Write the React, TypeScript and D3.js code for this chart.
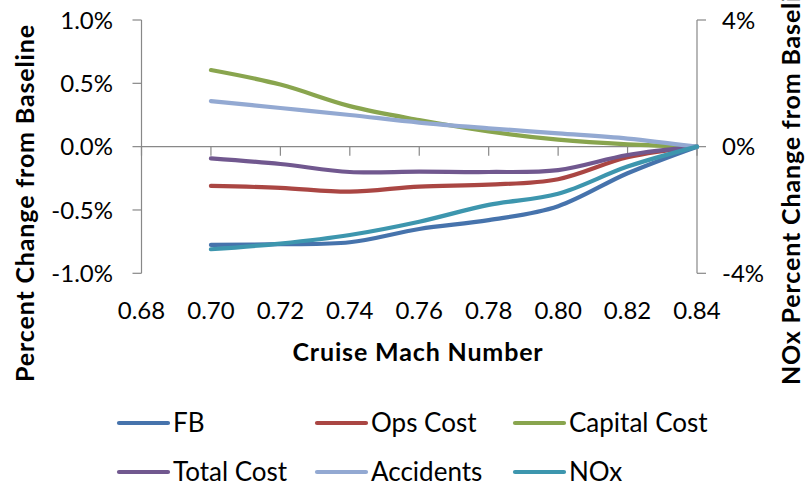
import React from "react";
import * as d3 from "d3";

const machs = [0.70, 0.72, 0.74, 0.76, 0.78, 0.80, 0.82, 0.84];
const fb = [-0.776, -0.77, -0.755, -0.65, -0.58, -0.47, -0.21, 0];
const opsCost = [-0.31, -0.325, -0.355, -0.315, -0.30, -0.257, -0.084, 0];
const capitalCost = [0.605, 0.49, 0.32, 0.21, 0.12, 0.055, 0.018, 0];
const totalCost = [-0.092, -0.137, -0.20, -0.197, -0.20, -0.185, -0.066, 0];
const accidents = [0.36, 0.305, 0.25, 0.19, 0.145, 0.105, 0.064, 0];
const noxRight = [-3.24, -3.06, -2.79, -2.37, -1.84, -1.49, -0.63, 0];

const xTicks = [0.68, 0.70, 0.72, 0.74, 0.76, 0.78, 0.80, 0.82, 0.84];
const leftTicks = [-1.0, -0.5, 0, 0.5, 1.0];
const rightTicks = [-4, 0, 4];

const seriesNames = ["FB", "Ops Cost", "Capital Cost", "Total Cost", "Accidents", "NOx"];
const seriesColors = ["#4673AC", "#AA4643", "#89A54E", "#71588F", "#93A9D2", "#3D96AE"];

export default function App() {
  const W = 809, H = 489;
  const x = d3.scaleLinear().domain([0.68, 0.84]).range([141.5, 697]);
  const yL = d3.scaleLinear().domain([-1, 1]).range([273.3, 20]);
  const yR = d3.scaleLinear().domain([-4, 4]).range([273.3, 20]);
  const font = "Lato, 'Open Sans', sans-serif";
  const axisColor = "#888888";

  const series = [
    { vals: fb, y: yL },
    { vals: opsCost, y: yL },
    { vals: capitalCost, y: yL },
    { vals: totalCost, y: yL },
    { vals: accidents, y: yL },
    { vals: noxRight, y: yR },
  ];

  const line = (vals: number[], ys: d3.ScaleLinear<number, number>) =>
    d3.line<number>()
      .x((_, i) => x(machs[i]))
      .y((v) => ys(v))
      .curve(d3.curveCatmullRom.alpha(0))(vals) || "";

  const fmtL = (v: number) => v.toFixed(1) + "%";
  const fmtR = (v: number) => v + "%";

  const legendLineX = [119, 317, 515];
  const legendRows = [423, 472];

  return (
    <svg width={W} height={H} style={{ position: "absolute", left: 0, top: 0, background: "#fff" }}>
      {/* axes */}
      <line x1={x(0.68)} x2={x(0.68)} y1={yL(1)} y2={yL(-1)} stroke={axisColor} strokeWidth={1.2} />
      {leftTicks.map((t) => (
        <g key={"l" + t}>
          <line x1={x(0.68) - 9} x2={x(0.68)} y1={yL(t)} y2={yL(t)} stroke={axisColor} strokeWidth={1.2} />
          <text x={113} y={yL(t)} dy="0.36em" textAnchor="end" fontFamily={font} fontSize={24} fill="#000">
            {fmtL(t)}
          </text>
        </g>
      ))}
      <line x1={x(0.84)} x2={x(0.84)} y1={yR(4)} y2={yR(-4)} stroke={axisColor} strokeWidth={1.2} />
      {rightTicks.map((t) => (
        <g key={"r" + t}>
          <line x1={x(0.84)} x2={x(0.84) + 9} y1={yR(t)} y2={yR(t)} stroke={axisColor} strokeWidth={1.2} />
          <text x={722} y={yR(t)} dy="0.36em" textAnchor="start" fontFamily={font} fontSize={24} fill="#000">
            {fmtR(t)}
          </text>
        </g>
      ))}
      <line x1={x(0.68)} x2={x(0.84)} y1={yL(0)} y2={yL(0)} stroke={axisColor} strokeWidth={1.2} />
      {xTicks.map((t) => (
        <g key={"x" + t}>
          <line x1={x(t)} x2={x(t)} y1={yL(0)} y2={yL(0) + 9} stroke={axisColor} strokeWidth={1.2} />
          <text x={x(t)} y={319} textAnchor="middle" fontFamily={font} fontSize={24} fill="#000">
            {t.toFixed(2)}
          </text>
        </g>
      ))}

      {/* series */}
      {series.map((s, i) => (
        <path key={seriesNames[i]} d={line(s.vals, s.y)} fill="none" stroke={seriesColors[i]} strokeWidth={4.2} strokeLinecap="round" strokeLinejoin="round" />
      ))}

      {/* axis titles */}
      <text x={418} y={361} textAnchor="middle" fontFamily={font} fontSize={25} fontWeight="bold" letterSpacing={0.85} fill="#000">
        Cruise Mach Number
      </text>
      <text transform="translate(34,382) rotate(-90)" textAnchor="start" fontFamily={font} fontSize={25} fontWeight="bold" letterSpacing={0.85} fill="#000">
        Percent Change from Baseline
      </text>
      <text transform="translate(800,385) rotate(-90)" textAnchor="start" fontFamily={font} fontSize={25} fontWeight="bold" letterSpacing={0.85} fill="#000">
        NOx Percent Change from Baseline
      </text>

      {/* legend */}
      {seriesNames.map((name, i) => {
        const cx = legendLineX[i % 3];
        const cy = legendRows[Math.floor(i / 3)];
        return (
          <g key={"lg" + name}>
            <line x1={cx} x2={cx + 49} y1={cy} y2={cy} stroke={seriesColors[i]} strokeWidth={4.2} strokeLinecap="round" />
            <text x={cx + 54} y={cy} dy="0.36em" fontFamily={font} fontSize={26} fill="#000">
              {name}
            </text>
          </g>
        );
      })}
    </svg>
  );
}
